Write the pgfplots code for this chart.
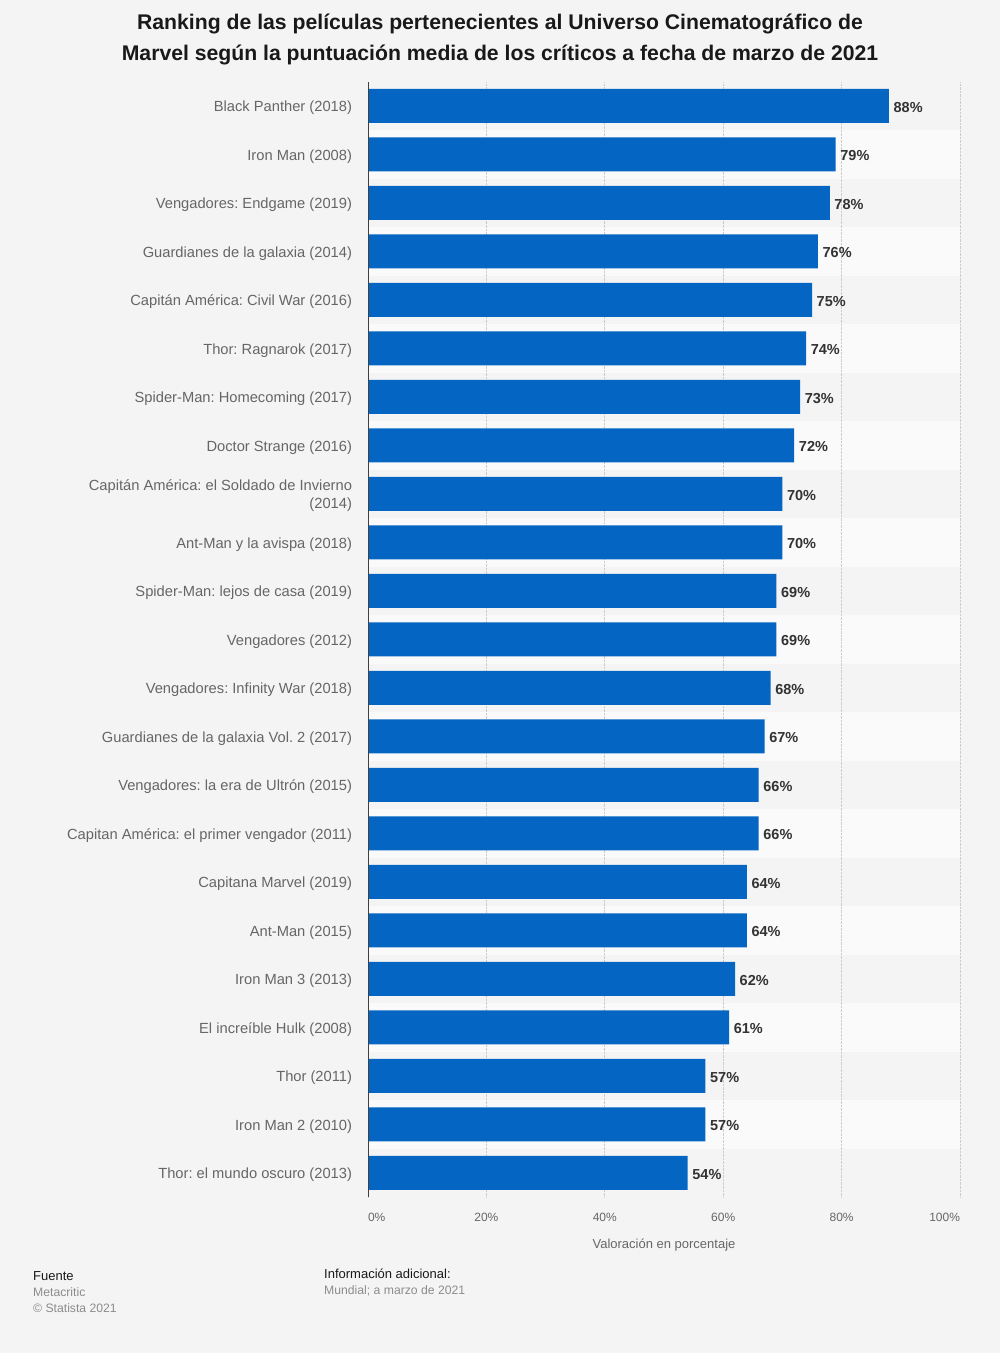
\documentclass[border=0pt]{standalone}
\usepackage{pgfplots}
\pgfplotsset{compat=1.18}
\usepackage{fontspec}
\setmainfont{Liberation Sans}
\frenchspacing
\definecolor{bg}{HTML}{F4F4F4}
\definecolor{stripe}{HTML}{FAFAFA}
\definecolor{barblue}{HTML}{0466C2}
\definecolor{labgray}{HTML}{666666}
\definecolor{valgray}{HTML}{333333}
\definecolor{gridgray}{HTML}{CCCCCC}
\begin{document}
\begin{tikzpicture}
\useasboundingbox (0,0) rectangle (1000bp,1353bp);
\fill[bg] (0,0) rectangle (1000bp,1353bp);
\foreach \k in {1,3,5,7,9,11,13,15,17,19,21} {
  \fill[stripe] (368bp,{(1353-81.75-48.5*\k)*1bp}) rectangle (960bp,{(1353-81.75-48.5*(\k+1))*1bp});
}
\node[align=center, font=\fontsize{21.2bp}{31bp}\selectfont\bfseries, text=black!90] at (500bp,1313.5bp)
 {Ranking de las películas pertenecientes al Universo Cinematográfico de\\Marvel según la puntuación media de los críticos a fecha de marzo de 2021};
\begin{axis}[
  at={(368bp,155.75bp)}, anchor=south west,
  scale only axis,
  width=592bp, height=1115.5bp,
  xmin=0, xmax=100, ymin=-0.5, ymax=22.5,
  xbar, bar width=34bp,
  axis line style={draw=none},
  major tick length=0pt,
  /pgf/number format/assume math mode=true,
  xtick={0,20,40,60,80,100},
  xticklabels={\rlap{0\%},20\%,40\%,60\%,80\%,\llap{100\%}},
  xticklabel style={font=\fontsize{12bp}{14bp}\selectfont, text=labgray, yshift=-12bp},
  ytick={0,...,22},
  yticklabels={
   {Thor: el mundo oscuro (2013)},
   {Iron Man 2 (2010)},
   {Thor (2011)},
   {El increíble Hulk (2008)},
   {Iron Man 3 (2013)},
   {Ant-Man (2015)},
   {Capitana Marvel (2019)},
   {Capitan América: el primer vengador (2011)},
   {Vengadores: la era de Ultrón (2015)},
   {Guardianes de la galaxia Vol. 2 (2017)},
   {Vengadores: Infinity War (2018)},
   {Vengadores (2012)},
   {Spider-Man: lejos de casa (2019)},
   {Ant-Man y la avispa (2018)},
   {Capitán América: el Soldado de Invierno\\(2014)},
   {Doctor Strange (2016)},
   {Spider-Man: Homecoming (2017)},
   {Thor: Ragnarok (2017)},
   {Capitán América: Civil War (2016)},
   {Guardianes de la galaxia (2014)},
   {Vengadores: Endgame (2019)},
   {Iron Man (2008)},
   {Black Panther (2018)}},
  yticklabel style={font=\fontsize{14.7bp}{18bp}\selectfont, text=labgray, align=right, xshift=-12.5bp, yshift=-2bp},
  xmajorgrids, ymajorgrids=false,
  major x grid style={densely dotted, gridgray, line width=0.8bp},
  xlabel={Valoración en porcentaje},
  xlabel style={font=\fontsize{13bp}{15bp}\selectfont, text=labgray, yshift=-11bp},
  point meta=x,
  nodes near coords={\pgfmathprintnumber{\pgfplotspointmeta}\%},
  nodes near coords style={font=\fontsize{14.5bp}{16bp}\selectfont\bfseries, text=valgray, anchor=west, inner sep=4.5bp, yshift=-1.5bp},
]
\addplot[fill=barblue, draw=none] coordinates {
(54,0) (57,1) (57,2) (61,3) (62,4) (64,5) (64,6) (66,7) (66,8) (67,9) (68,10) (69,11)
(69,12) (70,13) (70,14) (72,15) (73,16) (74,17) (75,18) (76,19) (78,20) (79,21) (88,22)
};
\draw[black!75, line width=1.6bp] (axis cs:0,-0.5) -- (axis cs:0,22.5);
\end{axis}
\node[anchor=base west, inner sep=0pt, font=\fontsize{13bp}{15bp}\selectfont, text=black!90] at (33bp,72bp) {Fuente};
\node[anchor=base west, inner sep=0pt, font=\fontsize{12.2bp}{14bp}\selectfont, text=black!45] at (33bp,56bp) {Metacritic};
\node[anchor=base west, inner sep=0pt, font=\fontsize{12.2bp}{14bp}\selectfont, text=black!45] at (33bp,40bp) {© Statista 2021};
\node[anchor=base west, inner sep=0pt, font=\fontsize{13bp}{15bp}\selectfont, text=black!90] at (324bp,74bp) {Información adicional:};
\node[anchor=base west, inner sep=0pt, font=\fontsize{12.2bp}{14bp}\selectfont, text=black!45] at (324bp,58bp) {Mundial; a marzo de 2021};
\end{tikzpicture}
\end{document}
